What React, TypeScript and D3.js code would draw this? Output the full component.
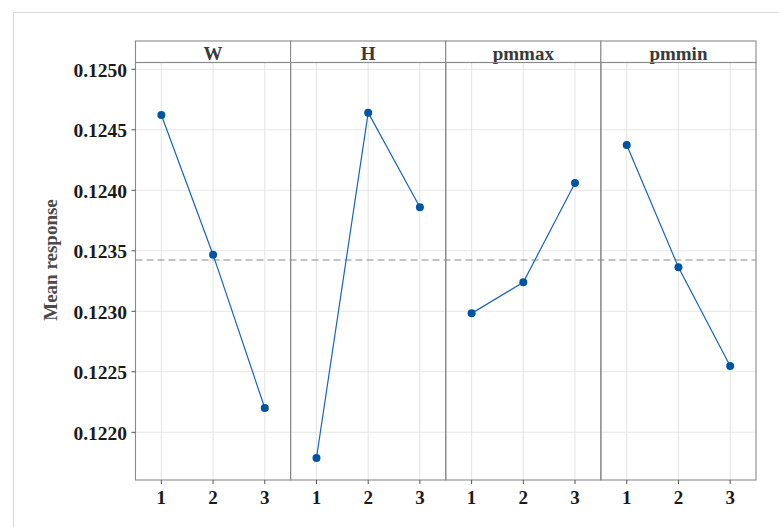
import React from "react";
import * as d3 from "d3";

const factors = ["W", "H", "pmmax", "pmmin"];
const levels = ["1", "2", "3"];
const wValues = [0.124622, 0.123468, 0.122201];
const hValues = [0.121788, 0.124641, 0.12386];
const pmmaxValues = [0.122983, 0.12324, 0.12406];
const pmminValues = [0.124374, 0.123364, 0.122548];
const seriesValues = [wValues, hValues, pmmaxValues, pmminValues];
const overallMean = 0.123424;
const yTicks = [0.122, 0.1225, 0.123, 0.1235, 0.124, 0.1245, 0.125];
const yTitle = "Mean response";

const W = 779;
const H = 527;
const left = 135.5;
const right = 756;
const stripTop = 41;
const top = 62.5;
const bottom = 480;
const font = "'Liberation Serif', 'Times New Roman', serif";

export default function App() {
  const panelW = (right - left) / factors.length;
  const y = d3.scaleLinear().domain([0.121606, 0.125056]).range([bottom, top]);
  const panels = factors.map((f, i) => {
    const x0 = left + i * panelW;
    const x = d3
      .scalePoint<string>()
      .domain(levels)
      .range([x0, x0 + panelW])
      .padding(0.5);
    return { f, i, x0, x };
  });

  return (
    <div style={{ position: "fixed", left: 0, top: 0 }}>
      <svg width={W} height={H} style={{ display: "block", background: "#fff" }}>
        <rect x={13.5} y={12.5} width={900} height={700} fill="#fff" stroke="#d9d9d9" strokeWidth={1} />
        {/* gridlines */}
        {panels.map((p) => (
          <g key={"g" + p.f}>
            {yTicks.map((t) => (
              <line key={t} x1={p.x0} x2={p.x0 + panelW} y1={y(t)} y2={y(t)} stroke="#e6e6e6" strokeWidth={1.1} />
            ))}
            {levels.map((l) => (
              <line key={l} x1={p.x(l)} x2={p.x(l)} y1={top} y2={bottom} stroke="#e6e6e6" strokeWidth={1.1} />
            ))}
          </g>
        ))}
        {/* mean line */}
        <line x1={left} x2={right} y1={y(overallMean)} y2={y(overallMean)} stroke="#8a8a8a" strokeWidth={1.2} strokeDasharray="7,4" />
        {/* series */}
        {panels.map((p) => {
          const vals = seriesValues[p.i];
          const gen = d3
            .line<number>()
            .x((_, j) => p.x(levels[j]) as number)
            .y((d) => y(d));
          return (
            <g key={"s" + p.f}>
              <path d={gen(vals) || ""} fill="none" stroke="#1565c0" strokeWidth={1.2} />
              {vals.map((v, j) => (
                <circle key={j} cx={p.x(levels[j])} cy={y(v)} r={4} fill="#0054a6" />
              ))}
            </g>
          );
        })}
        {/* strips */}
        {panels.map((p) => (
          <g key={"st" + p.f}>
            <rect x={p.x0} y={stripTop} width={panelW} height={top - stripTop} fill="#fff" stroke="#8a8a8a" strokeWidth={1.1} />
            <text x={p.x0 + panelW / 2} y={59.5} textAnchor="middle" fontFamily={font} fontWeight="bold" fontSize={19} fill="#3a3a3a">
              {p.f}
            </text>
          </g>
        ))}
        {/* panel borders */}
        {panels.map((p) => (
          <rect key={"b" + p.f} x={p.x0} y={top} width={panelW} height={bottom - top} fill="none" stroke="#8a8a8a" strokeWidth={1.1} />
        ))}
        {/* y axis */}
        {yTicks.map((t) => (
          <g key={"yt" + t}>
            <line x1={left - 4} x2={left} y1={y(t)} y2={y(t)} stroke="#555" strokeWidth={1} />
            <text x={127} y={y(t) + 7.5} textAnchor="end" fontFamily={font} fontWeight="bold" fontSize={19.5} fill="#1a1a1a">
              {t.toFixed(4)}
            </text>
          </g>
        ))}
        {/* x axes */}
        {panels.map((p) =>
          levels.map((l) => (
            <g key={"xt" + p.f + l}>
              <line x1={p.x(l)} x2={p.x(l)} y1={bottom} y2={bottom + 4} stroke="#555" strokeWidth={1} />
              <text x={p.x(l)} y={503.5} textAnchor="middle" fontFamily={font} fontWeight="bold" fontSize={19} fill="#1a1a1a">
                {l}
              </text>
            </g>
          ))
        )}
        <text
          transform={`translate(57,260) rotate(-90)`}
          textAnchor="middle"
          fontFamily={font}
          fontWeight="bold"
          fontSize={19}
          fill="#4a4a4a"
        >
          {yTitle}
        </text>
      </svg>
    </div>
  );
}
